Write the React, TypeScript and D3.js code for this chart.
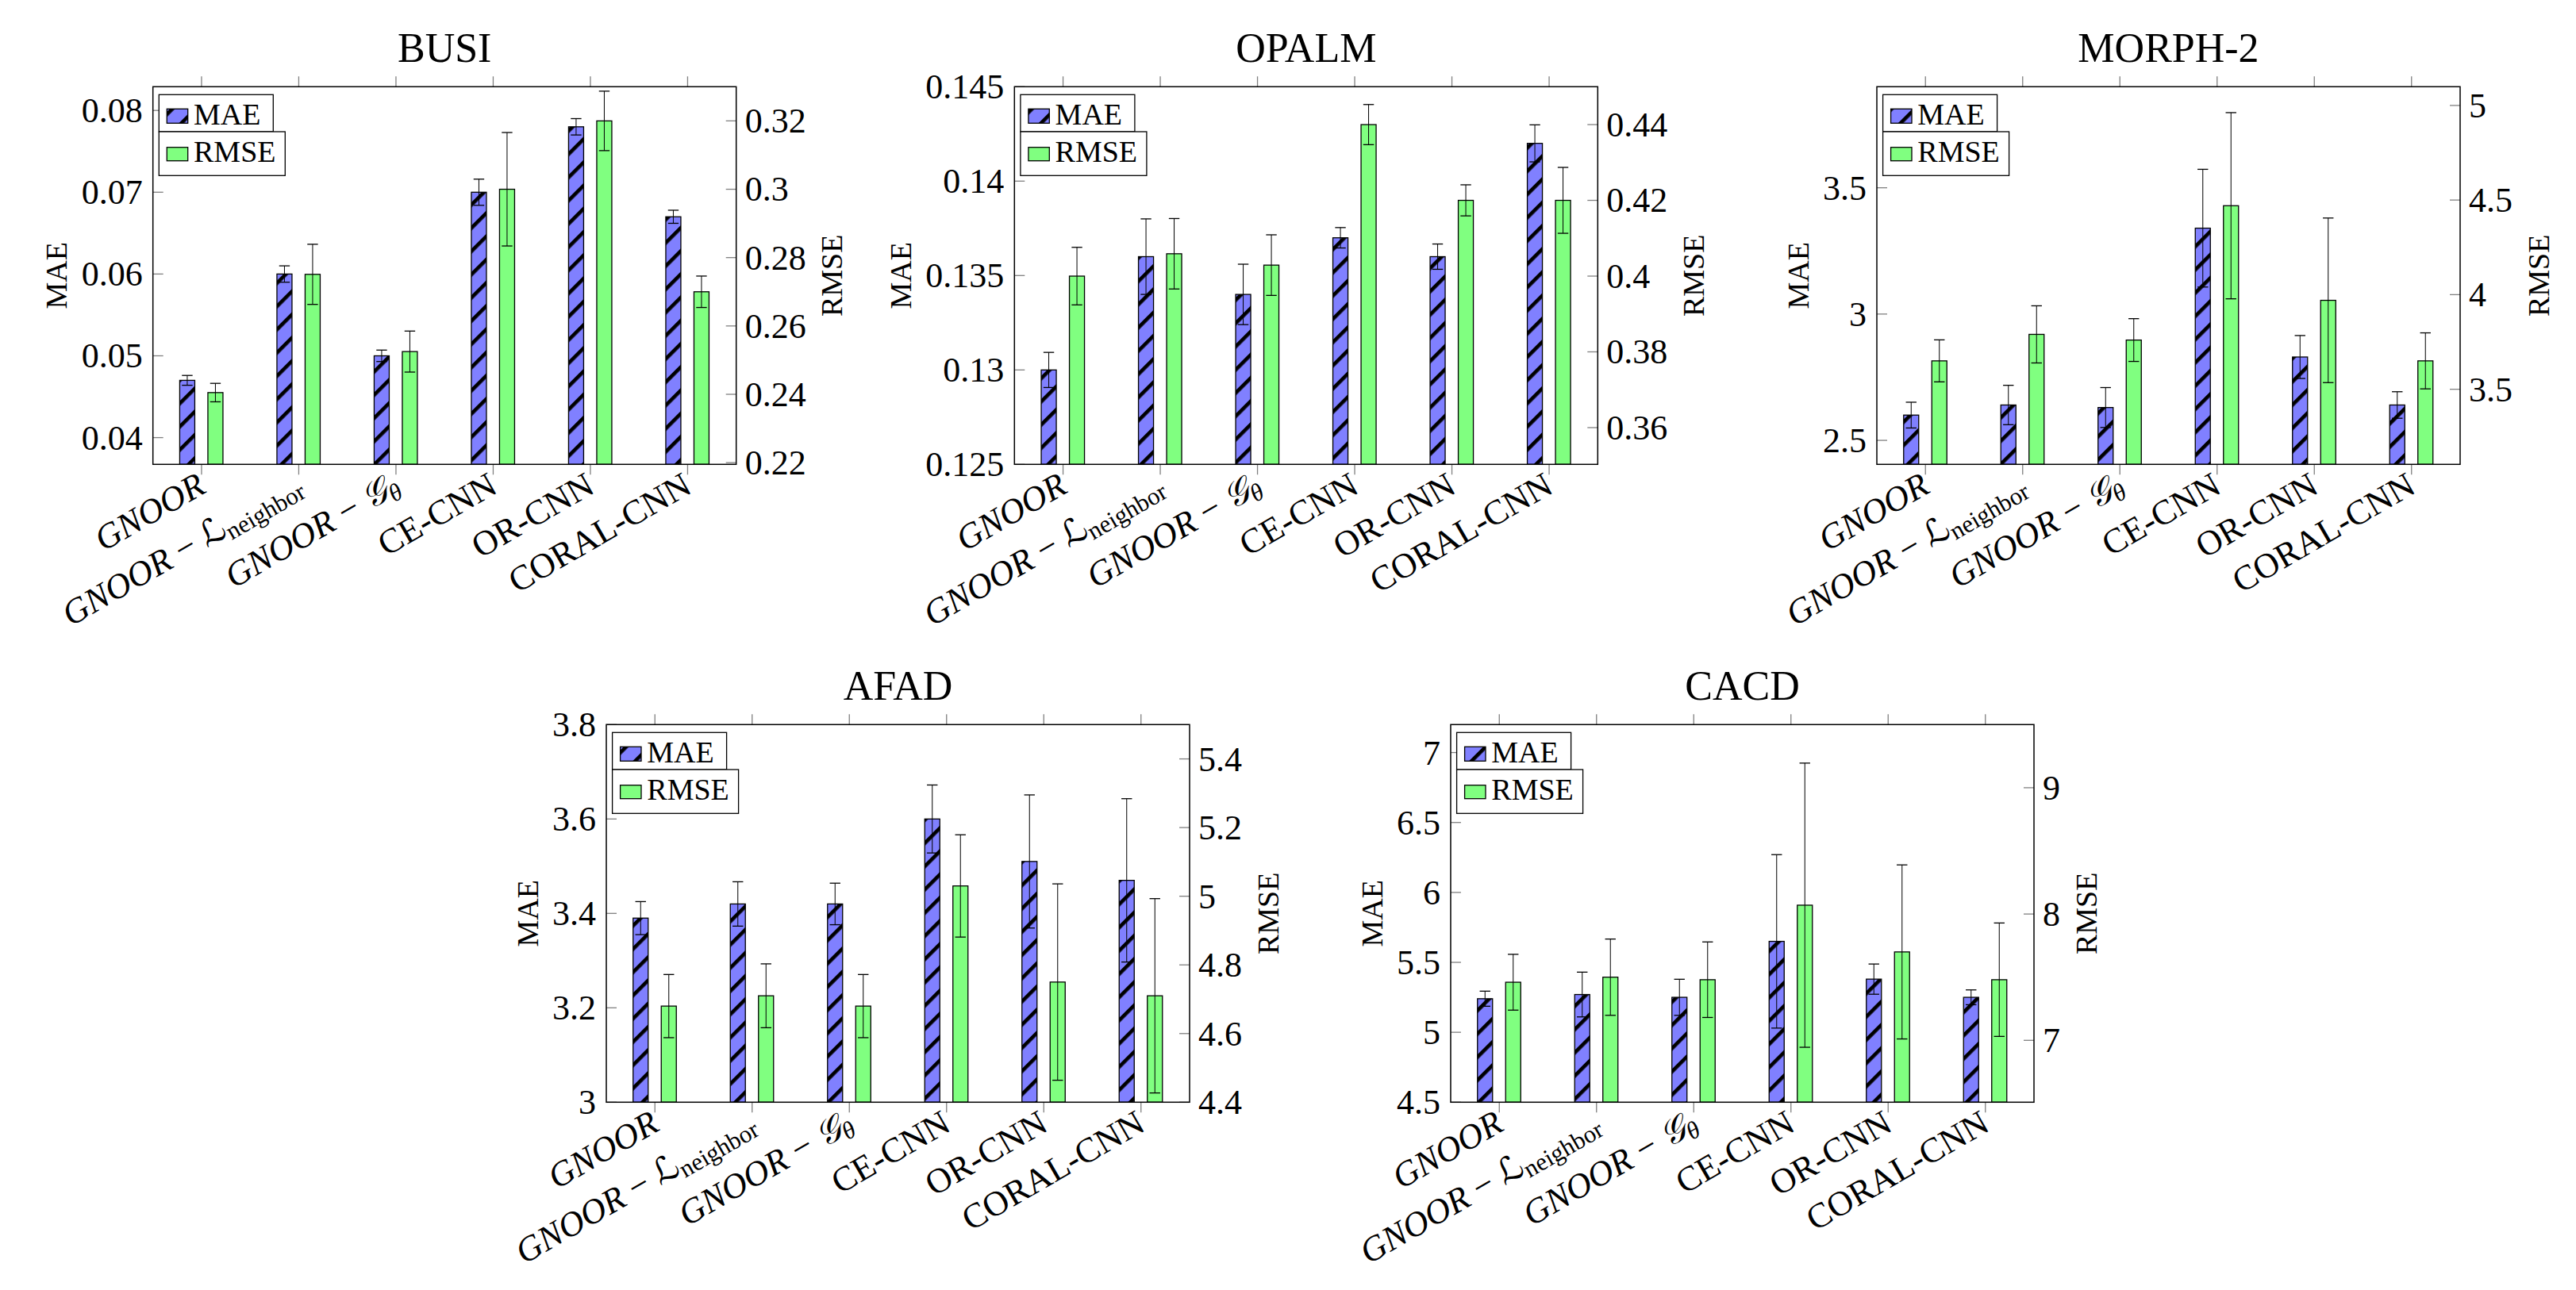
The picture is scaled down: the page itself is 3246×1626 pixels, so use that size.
import React from 'react';
import * as d3 from 'd3';

// --- data ---
const categories = ['GNOOR', 'GNOOR − ℒneighbor', 'GNOOR − 𝒢θ', 'CE-CNN', 'OR-CNN', 'CORAL-CNN'];

const busiMae = [0.047, 0.060, 0.050, 0.070, 0.078, 0.067];
const busiMaeErr = [0.0006, 0.001, 0.0007, 0.0016, 0.001, 0.0008];
const busiRmse = [0.2405, 0.2751, 0.2525, 0.300, 0.320, 0.270];
const busiRmseErr = [0.0027, 0.0088, 0.006, 0.0166, 0.0087, 0.0046];

const opalmMae = [0.130, 0.136, 0.134, 0.137, 0.136, 0.142];
const opalmMaeErr = [0.00093, 0.002, 0.0016, 0.00054, 0.00067, 0.00098];
const opalmRmse = [0.400, 0.4059, 0.4029, 0.440, 0.420, 0.420];
const opalmRmseErr = [0.0076, 0.0093, 0.008, 0.0053, 0.0041, 0.0087];

const morphMae = [2.60, 2.64, 2.63, 3.34, 2.83, 2.64];
const morphMaeErr = [0.051, 0.078, 0.079, 0.233, 0.085, 0.0525];
const morphRmse = [3.65, 3.79, 3.76, 4.47, 3.97, 3.65];
const morphRmseErr = [0.111, 0.151, 0.113, 0.492, 0.435, 0.148];

const afadMae = [3.39, 3.42, 3.42, 3.60, 3.51, 3.47];
const afadMaeErr = [0.035, 0.047, 0.044, 0.072, 0.141, 0.173];
const afadRmse = [4.68, 4.71, 4.68, 5.03, 4.75, 4.71];
const afadRmseErr = [0.092, 0.093, 0.092, 0.149, 0.286, 0.283];

const cacdMae = [5.24, 5.27, 5.25, 5.65, 5.38, 5.25];
const cacdMaeErr = [0.054, 0.16, 0.129, 0.62, 0.108, 0.053];
const cacdRmse = [7.46, 7.50, 7.48, 8.07, 7.70, 7.48];
const cacdRmseErr = [0.221, 0.302, 0.299, 1.125, 0.689, 0.449];

const busiMaeTicks = [0.04, 0.05, 0.06, 0.07, 0.08];
const busiRmseTicks = [0.22, 0.24, 0.26, 0.28, 0.30, 0.32];
const opalmMaeTicks = [0.125, 0.13, 0.135, 0.14, 0.145];
const opalmRmseTicks = [0.36, 0.38, 0.40, 0.42, 0.44];
const morphMaeTicks = [2.5, 3, 3.5];
const morphRmseTicks = [3.5, 4, 4.5, 5];
const afadMaeTicks = [3, 3.2, 3.4, 3.6, 3.8];
const afadRmseTicks = [4.4, 4.6, 4.8, 5, 5.2, 5.4];
const cacdMaeTicks = [4.5, 5, 5.5, 6, 6.5, 7];
const cacdRmseTicks = [7, 8, 9];

const panels = [
  { title: 'BUSI', mae: busiMae, maeErr: busiMaeErr, rmse: busiRmse, rmseErr: busiRmseErr,
    maeDomain: [0.03673, 0.0829], rmseDomain: [0.2195, 0.33], maeTicks: busiMaeTicks, rmseTicks: busiRmseTicks },
  { title: 'OPALM', mae: opalmMae, maeErr: opalmMaeErr, rmse: opalmRmse, rmseErr: opalmRmseErr,
    maeDomain: [0.125, 0.145], rmseDomain: [0.3503, 0.45], maeTicks: opalmMaeTicks, rmseTicks: opalmRmseTicks },
  { title: 'MORPH-2', mae: morphMae, maeErr: morphMaeErr, rmse: morphRmse, rmseErr: morphRmseErr,
    maeDomain: [2.405, 3.90], rmseDomain: [3.103, 5.099], maeTicks: morphMaeTicks, rmseTicks: morphRmseTicks },
  { title: 'AFAD', mae: afadMae, maeErr: afadMaeErr, rmse: afadRmse, rmseErr: afadRmseErr,
    maeDomain: [3.0, 3.8], rmseDomain: [4.4, 5.5], maeTicks: afadMaeTicks, rmseTicks: afadRmseTicks },
  { title: 'CACD', mae: cacdMae, maeErr: cacdMaeErr, rmse: cacdRmse, rmseErr: cacdRmseErr,
    maeDomain: [4.5, 7.2], rmseDomain: [6.51, 9.50], maeTicks: cacdMaeTicks, rmseTicks: cacdRmseTicks },
];

// --- layout ---
const W = 3246;
const H = 1626;
const origins = [[192.7, 109.3], [1278.3, 109.3], [2365, 109.3], [764, 913.3], [1828, 913.3]];
const boxW = 735;
const boxH = 476;
const FONT = '"Liberation Serif", "DejaVu Serif", serif';
const TICK_FS = 44;
const LABEL_FS = 38;
const TITLE_FS = 52;
const BLUE = '#8080ff';
const GREEN = '#80ff80';
const fmt = d3.format('~g');

const textWidth = (s: string) =>
  s.split('').reduce((a, c) => a + (c === '.' ? 0.25 : 0.5), 0) * TICK_FS;

const CatLabel = ({ name }: { name: string }) => {
  if (name.startsWith('GNOOR − ℒ')) {
    return (
      <>
        <tspan fontStyle="italic">GNOOR</tspan>
        <tspan> − </tspan>
        <tspan fontStyle="italic" style={{ fontFamily: '"DejaVu Serif", "DejaVu Sans", serif' }}>ℒ</tspan>
        <tspan fontSize={31} dy={7}>neighbor</tspan>
      </>
    );
  }
  if (name.startsWith('GNOOR − 𝒢')) {
    return (
      <>
        <tspan fontStyle="italic">GNOOR</tspan>
        <tspan> − </tspan>
        <tspan fontStyle="italic">𝒢</tspan>
        <tspan fontSize={31} fontStyle="italic" dy={7}>θ</tspan>
      </>
    );
  }
  if (name === 'GNOOR') return <tspan fontStyle="italic">GNOOR</tspan>;
  return <tspan>{name}</tspan>;
};

type PanelProps = { p: typeof panels[number]; x0: number; y0: number };

const Panel: React.FC<PanelProps> = ({ p, x0, y0 }) => {
  const x1 = x0 + boxW;
  const y1 = y0 + boxH;
  const xBand = d3.scaleBand<number>()
    .domain(d3.range(categories.length))
    .range([x0, x1])
    .padding(0);
  const cx = (i: number) => (xBand(i) as number) + xBand.bandwidth() / 2;
  const yMae = d3.scaleLinear().domain(p.maeDomain).range([y1, y0]);
  const yRmse = d3.scaleLinear().domain(p.rmseDomain).range([y1, y0]);
  const barW = 19;
  const cap = 6.7;
  const maeOff = -18;
  const rmseOff = 17.5;

  const leftW = d3.max(p.maeTicks, (t) => textWidth(fmt(t))) as number;
  const rightW = d3.max(p.rmseTicks, (t) => textWidth(fmt(t))) as number;
  const cy = (y0 + y1) / 2;
  const lx = x0 - 13 - leftW - 31;
  const rx = x1 + 11 + rightW + 33;

  const errBar = (x: number, t: number, b: number, key: string) => (
    <g key={key} stroke="black">
      <line x1={x} x2={x} y1={t} y2={b} strokeWidth={1} />
      <line x1={x - cap} x2={x + cap} y1={t} y2={t} strokeWidth={1.3} />
      <line x1={x - cap} x2={x + cap} y1={b} y2={b} strokeWidth={1.3} />
    </g>
  );

  return (
    <g style={{ fontFamily: FONT }}>
      <text x={(x0 + x1) / 2} y={y0 - 31} fontSize={TITLE_FS} textAnchor="middle">{p.title}</text>

      {/* MAE bars */}
      {p.mae.map((v, i) => (
        <g key={`m${i}`}>
          <rect x={cx(i) + maeOff - barW / 2} y={yMae(v)} width={barW} height={y1 - yMae(v)} fill={BLUE} />
          <rect x={cx(i) + maeOff - barW / 2} y={yMae(v)} width={barW} height={y1 - yMae(v)}
            fill="url(#nelines)" stroke="black" strokeWidth={1.3} />
        </g>
      ))}
      {/* RMSE bars */}
      {p.rmse.map((v, i) => (
        <rect key={`r${i}`} x={cx(i) + rmseOff - barW / 2} y={yRmse(v)} width={barW} height={y1 - yRmse(v)}
          fill={GREEN} stroke="black" strokeWidth={1.3} />
      ))}
      {/* error bars */}
      {p.mae.map((v, i) =>
        errBar(cx(i) + maeOff, yMae(v + p.maeErr[i]), yMae(v - p.maeErr[i]), `me${i}`))}
      {p.rmse.map((v, i) =>
        errBar(cx(i) + rmseOff, yRmse(v + p.rmseErr[i]), yRmse(v - p.rmseErr[i]), `re${i}`))}

      {/* ticks */}
      {categories.map((_, i) => (
        <g key={`xt${i}`} stroke="#808080" strokeWidth={1.3}>
          <line x1={cx(i)} x2={cx(i)} y1={y0 - 13} y2={y0} />
          <line x1={cx(i)} x2={cx(i)} y1={y1} y2={y1 + 13} />
        </g>
      ))}
      {p.maeTicks.map((t) => (
        <g key={`ml${t}`}>
          <line x1={x0} x2={x0 + 13} y1={yMae(t)} y2={yMae(t)} stroke="#808080" strokeWidth={1.3} />
          <text x={x0 - 13} y={yMae(t)} dy="0.34em" fontSize={TICK_FS} textAnchor="end">{fmt(t)}</text>
        </g>
      ))}
      {p.rmseTicks.map((t) => (
        <g key={`rl${t}`}>
          <line x1={x1 - 13} x2={x1} y1={yRmse(t)} y2={yRmse(t)} stroke="#808080" strokeWidth={1.3} />
          <text x={x1 + 11} y={yRmse(t)} dy="0.34em" fontSize={TICK_FS} textAnchor="start">{fmt(t)}</text>
        </g>
      ))}

      {/* category labels, rotated 30 degrees */}
      {categories.map((c, i) => (
        <g key={`cl${i}`} transform={`translate(${cx(i) + 2},${y1 + 25}) rotate(-30)`}>
          <text x={0} y={11} fontSize={TICK_FS} textAnchor="end">
            <CatLabel name={c} />
          </text>
        </g>
      ))}

      {/* axis labels */}
      <g transform={`translate(${lx},${cy}) rotate(-90)`}>
        <text x={0} y={12.5} fontSize={LABEL_FS} textAnchor="middle">MAE</text>
      </g>
      <g transform={`translate(${rx},${cy}) rotate(-90)`}>
        <text x={0} y={12.5} fontSize={LABEL_FS} textAnchor="middle">RMSE</text>
      </g>

      {/* legends (one per axis, stacked) */}
      <rect x={x0 + 7.6} y={y0 + 10} width={144} height={46.7} fill="white" stroke="black" strokeWidth={1.3} />
      <rect x={x0 + 17.6} y={y0 + 28} width={26.4} height={18} fill={BLUE} />
      <rect x={x0 + 17.6} y={y0 + 28} width={26.4} height={18} fill="url(#nelines)" stroke="black" strokeWidth={1.3} />
      <text x={x0 + 51.3} y={y0 + 47.4} fontSize={LABEL_FS}>MAE</text>
      <rect x={x0 + 7.6} y={y0 + 56.7} width={159} height={55.3} fill="white" stroke="black" strokeWidth={1.3} />
      <rect x={x0 + 17.6} y={y0 + 76.4} width={26.4} height={17} fill={GREEN} stroke="black" strokeWidth={1.3} />
      <text x={x0 + 51.3} y={y0 + 94.7} fontSize={LABEL_FS}>RMSE</text>

      {/* frame */}
      <rect x={x0} y={y0} width={boxW} height={boxH} fill="none" stroke="black" strokeWidth={1.5} />
    </g>
  );
};

const App: React.FC = () => (
  <svg width={W} height={H} style={{ position: 'absolute', left: 0, top: 0, background: 'white', fontFamily: FONT }}>
    <defs>
      <pattern id="nelines" patternUnits="userSpaceOnUse" width={20.7} height={20.7} patternTransform="rotate(45)">
        <rect x={0} y={0} width={4.6} height={20.7} fill="black" />
      </pattern>
    </defs>
    <rect width={W} height={H} fill="white" />
    {panels.map((p, k) => (
      <Panel key={p.title} p={p} x0={origins[k][0]} y0={origins[k][1]} />
    ))}
  </svg>
);

export default App;
